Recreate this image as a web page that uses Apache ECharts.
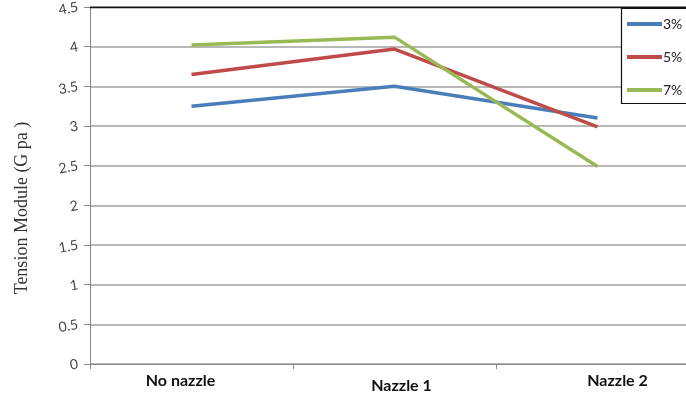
<!DOCTYPE html>
<html>
<head>
<meta charset="utf-8">
<script src="https://cdn.jsdelivr.net/npm/echarts@6/dist/echarts.min.js"></script>
<style>
  html, body { margin: 0; padding: 0; background: #fff; }
  #chart { width: 686px; height: 394px; }
</style>
</head>
<body>
<div id="chart"></div>
<script>
// Tension modulus by nozzle configuration and fibre content
const categories = ['No nazzle', 'Nazzle 1', 'Nazzle 2'];
const seriesNames = ['3%', '5%', '7%'];
const values3 = [3.25, 3.50, 3.10];
const values5 = [3.65, 3.97, 2.99];
const values7 = [4.02, 4.12, 2.49];
const yTicks = [0, 0.5, 1, 1.5, 2, 2.5, 3, 3.5, 4, 4.5];

const colors = ['#4a7ebb', '#be4b48', '#98b954'];
const labelPad = {
  'No nazzle': [0, 22, 0, 0],
  'Nazzle 1': [5, 0, 0, 14],
  'Nazzle 2': [0, 0, 0, 40]
};

const chart = echarts.init(document.getElementById('chart'), null, { renderer: 'canvas' });

const rich = {};
categories.forEach((c, i) => {
  rich['c' + i] = {
    fontFamily: 'Lato, "Open Sans", sans-serif',
    fontWeight: 'bold',
    fontSize: 16,
    color: '#111',
    padding: labelPad[c]
  };
});

chart.setOption({
  animation: false,
  color: colors,
  // plot area runs past the right edge of the canvas
  grid: { left: 90, top: 7, width: 609, bottom: 30, containLabel: false, outerBoundsMode: 'none' },
  legend: {
    orient: 'vertical',
    left: 622,
    top: 9,
    padding: [7, 12, 7, 5],
    icon: 'rect',
    itemWidth: 35,
    itemHeight: 4,
    itemGap: 17,
    borderWidth: 0,
    textStyle: { fontFamily: 'Lato, "Open Sans", sans-serif', fontSize: 14, color: '#222', padding: [0, 0, 0, -4], lineHeight: 16 },
    data: seriesNames,
    z: 12
  },
  xAxis: {
    type: 'category',
    data: categories,
    boundaryGap: true,
    axisLine: { lineStyle: { color: '#888', width: 1 } },
    axisTick: { show: true, alignWithLabel: false, length: 5, lineStyle: { color: '#888' } },
    axisLabel: {
      margin: 9,
      formatter: (v) => '{c' + categories.indexOf(v) + '|' + v + '}',
      rich: rich
    },
    splitLine: { show: false }
  },
  yAxis: {
    type: 'value',
    min: yTicks[0],
    max: yTicks[yTicks.length - 1],
    interval: 0.5,
    axisLine: { show: true, lineStyle: { color: '#888', width: 1 } },
    axisTick: { show: true, inside: false, length: 6, lineStyle: { color: '#888' } },
    axisLabel: {
      margin: 12,
      rotate: 10,
      fontFamily: 'Lato, "Open Sans", sans-serif',
      fontSize: 14,
      color: '#444'
    },
    splitLine: { show: true, lineStyle: { color: '#a0a0a0', width: 1.5 } }
  },
  series: [
    { name: seriesNames[0], type: 'line', data: values3 },
    { name: seriesNames[1], type: 'line', data: values5 },
    { name: seriesNames[2], type: 'line', data: values7 }
  ].map((s, i) => Object.assign(s, {
    symbol: 'none',
    lineStyle: { width: 3.5, color: colors[i] },
    itemStyle: { color: colors[i] }
  })),
  graphic: [
    {
      type: 'line',
      shape: { x1: 90, y1: 7.5, x2: 686, y2: 7.5 },
      style: { stroke: '#111', lineWidth: 1.5 },
      z: 10
    },
    {
      // legend frame, continuing past the right edge
      type: 'rect',
      shape: { x: 621.5, y: 8.5, width: 90, height: 95 },
      style: { fill: '#fff', stroke: '#111', lineWidth: 1.2 },
      z: 11
    },
    {
      type: 'text',
      x: 22,
      y: 208,
      rotation: Math.PI / 2,
      style: {
        text: 'Tension Module (G pa )',
        fontFamily: '"Liberation Serif", "DejaVu Serif", serif',
        fontSize: 18,
        fill: '#333',
        align: 'center',
        verticalAlign: 'middle'
      }
    }
  ]
});
</script>
</body>
</html>
